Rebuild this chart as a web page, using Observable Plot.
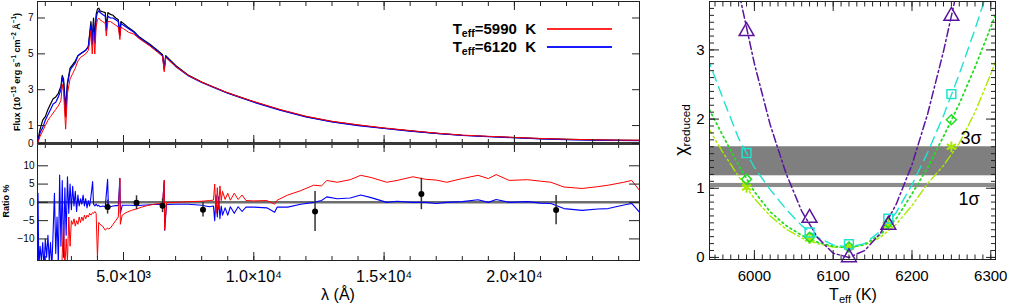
<!DOCTYPE html>
<html><head><meta charset="utf-8">
<script src="https://cdn.jsdelivr.net/npm/d3@7"></script>
<script src="https://cdn.jsdelivr.net/npm/@observablehq/plot@0.6"></script>
<style>
body{margin:0;background:#fff;}
#wrap{position:relative;width:1009px;height:304px;overflow:hidden;font-family:"Liberation Sans",Arial,Helvetica,sans-serif;color:#000;}
#wrap svg{position:absolute;}
.lbl{position:absolute;white-space:nowrap;line-height:1;}
.lbl sup{font-size:70%;vertical-align:0.5em;line-height:0;}
.lbl sub{font-size:70%;vertical-align:-0.25em;line-height:0;}
.sw{position:absolute;height:2px;}
</style></head><body><div id="wrap"></div>
<script>
// ---------- spectrum panel data (wavelength in Å, flux in 1e-15 erg/s/cm2/Å) ----------
const specWave = [1700,1800,1900,2000,2100,2200,2300,2400,2500,2600,2650,2700,2780,2850,2950,3050,3150,3250,3350,3450,3550,3650,3700,3750,3800,3850,3900,3950,4000,4050,4100,4200,4300,4340,4400,4500,4600,4700,4800,4861,4900,5000,5200,5400,5600,5800,6000,6300,6500,6563,6620,7000,7500,8000,8500,9000,9500,10000,11000,12000,13000,14000,15000,16000,17000,18000,19000,20000,21000,22000,23000,24000,24800];
const fluxObs = [0.1,0.8,1.3,1.5,1.9,2.2,2.5,2.6,2.8,3.2,3.8,3.6,2.0,3.4,4.2,4.4,4.6,4.9,5.0,5.1,5.2,5.4,6.1,6.8,5.7,7.0,5.8,7.2,7.5,7.55,7.4,7.35,7.3,6.5,7.3,7.2,7.15,7.0,6.9,6.1,6.8,6.7,6.45,6.25,5.95,5.75,5.55,5.2,4.95,4.2,4.9,4.35,3.8,3.43,3.12,2.82,2.57,2.33,1.88,1.5,1.22,1.02,0.85,0.7,0.57,0.46,0.39,0.33,0.27,0.23,0.2,0.18,0.17];
const flux6120 = [0.0,0.6,0.9,1.3,1.6,1.9,2.2,2.3,2.6,3.0,3.7,3.4,1.5,3.3,4.1,4.3,4.5,4.9,5.0,5.1,5.2,5.4,6.0,6.6,5.5,6.8,5.6,7.0,7.3,7.4,7.3,7.2,7.1,6.3,7.1,7.0,7.0,6.9,6.8,6.0,6.7,6.6,6.4,6.2,5.9,5.7,5.5,5.15,4.9,4.1,4.85,4.3,3.76,3.4,3.1,2.8,2.55,2.3,1.86,1.48,1.2,1.0,0.84,0.69,0.56,0.45,0.38,0.32,0.26,0.22,0.19,0.17,0.16];
const flux5990 = [0.0,0.4,0.7,1.0,1.3,1.5,1.7,1.9,2.1,2.4,3.3,2.9,0.8,2.8,3.6,3.9,4.2,4.6,4.8,4.9,5.0,5.2,5.6,6.3,5.0,6.2,5.0,6.5,6.9,7.0,6.9,6.8,6.7,6.0,6.8,6.8,6.7,6.6,6.5,5.8,6.5,6.4,6.2,6.1,5.85,5.65,5.45,5.1,4.85,4.0,4.8,4.3,3.78,3.42,3.12,2.83,2.58,2.34,1.9,1.52,1.24,1.04,0.87,0.72,0.58,0.47,0.4,0.34,0.28,0.24,0.21,0.19,0.18];
const fluxTicks = [0,1,3,5,7];

// ---------- ratio panel data (%) ----------
const ratioWave = [1700,1720,1750,1800,1850,1900,1950,2000,2050,2100,2150,2200,2250,2300,2350,2400,2450,2500,2550,2600,2650,2700,2750,2800,2850,2900,2950,3000,3050,3100,3150,3200,3250,3300,3350,3400,3450,3500,3550,3600,3650,3700,3750,3815,3850,3900,3950,4000,4050,4100,4200,4300,4390,4420,4500,4600,4700,4800,4861,4880,4950,5100,5300,5500,5700,5900,6100,6300,6500,6563,6580,6650,7000,7500,8000,8300,8450,8500,8550,8600,8650,8700,8750,8800,8900,9000,9100,9250,9400,9550,9700,10000,10500,10800,10900,11300,11800,12300,12600,12800,13200,13700,14100,14500,15100,15500,16100,16600,17000,17400,18000,18600,19000,19300,19800,20500,21000,21400,21900,22600,23200,23600,24200,24500,24800];
const ratio6120 = [-18,2.5,-18,-12,-16,-11,-18,-10,-15,-9, -16,-11,-18,-8,2.5,-14,-4,-17,7.5,-12, 6,-15,4,-9,7,-3,5,-2,4.4,-1, 3,-2.5,2,-1,1,-0.5,2,-1,1,-1.5, 0.5,-1,1.5,5.7,-0.5,-1,-0.5,-1,-0.8,-1.2, -1,-1.2,6.3,-1,-1.2,-1,-0.9,-0.9,6.6,-3, -0.8,-0.8,-0.8,-0.9,-0.8,-0.7,-0.6,-0.6,-0.6,6, -7.6,-0.6,-0.5,-0.5,-0.8,-1.2,-1,-5,2,-4, 1.5,-4.5,-1,-3.5,-1.5,-3.5,-1.2,-3,-1.2,-2.5, -1.3,-1.3,-1.5,-2.7,-1.3,-1.3,-0.5,0,0.5,1.5, 1,1.2,2,1.3,0,0.3,0,0,-0.3,0, 0.2,0.7,0,0.8,0,0.2,-0.2,-0.3,-1.7,-2.2, -1.8,-1.7,-0.7,-0.3,-2.7];
const ratio5990 = [-25,-25,-25,-25,-25,-25,-25,-25,-25,-25, -25,-25,-25,-25,-25,-25,-25,-25,-16,-25, -14,-6,-18,-10,-16,-4,-12,-5,-6,-4.5, -6.5,-5,-6,-4,-5.5,-4,-5,-3.5,-4.5,-3.5, -4,-3,-3.5,-2.8,-3,-2.5,-3,-15,-5.5,-6, -6.5,-7.6,-7,-7.3,-7,-6,-5,-4,6.6,-6, -3.5,-2.8,-2.2,-1.8,-1.3,-0.9,-0.6,-0.4,-0.3,6, -7.6,-0.1,0,0.2,0.3,0.5,0.6,5,-3,4, -2,4.5,0.5,3,0.8,2.5,0.6,2.5,0.8,2, 0.5,0.4,0.5,-0.5,0.6,2,3.2,4.7,4.5,6, 5.5,6.2,7.4,6.8,5.5,6,7,6.3,6.1,5.5, 6.5,7.4,6.5,7.6,6,6.2,5.8,5.5,4.2,3.8, 4.3,4.7,5.5,6,3.3];
const photWave  = [4390, 5500, 6500, 8050, 12350, 16430, 21600];
const photRatio = [-1.3, -0.1, -0.9, -2.0, -2.5, 2.3, -2.1];
const photErr   = [1.9, 1.9, 1.9, 2.0, 5.5, 4.3, 4.0];
const ratioTicks = [-10,-5,0,5,10];
const waveTicks = [5000, 10000, 15000, 20000];
const waveTickLabels = ["5.0×10³", "1.0×10⁴", "1.5×10⁴", "2.0×10⁴"];
const legendLabels = ["5990", "6120"];

// ---------- chi-square panel data ----------
const chiT = [5940,5960,5980,6000,6020,6040,6060,6080,6100,6120,6140,6160,6180,6200,6220,6240,6260,6280,6300,6310];
const chiTri = [6.3,5.0,3.85,2.8,1.92,1.22,0.67,0.29,0.06,0.0,0.1,0.35,0.77,1.34,2.08,2.98,4.0,5.2,6.6,7.3];
const chiSq  = [2.9,2.3,1.72,1.3,0.98,0.7,0.46,0.29,0.18,0.15,0.2,0.38,0.65,1.05,1.52,2.05,2.65,3.3,4.0,4.4];
const chiDia = [2.2,1.76,1.33,0.95,0.66,0.46,0.32,0.22,0.16,0.14,0.19,0.33,0.56,0.92,1.3,1.75,2.22,2.75,3.33,3.63];
const chiAst = [1.9,1.52,1.17,0.85,0.6,0.41,0.28,0.2,0.15,0.14,0.18,0.29,0.48,0.75,1.07,1.33,1.65,2.1,2.65,2.95];
const markT = [5990, 6070, 6120, 6170, 6250];
const markTri = [3.27, 0.57, 0.0, 0.47, 3.49];
const markSq  = [1.51, 0.36, 0.19, 0.56, 2.36];
const markDia = [1.13, 0.29, 0.15, 0.50, 1.99];
const markAst = [1.01, 0.27, 0.15, 0.47, 1.60];
const sigmaLabels = ["3σ", "1σ"];
const sigmaLo = [1.18, 1.01];
const sigmaHi = [1.60, 1.07];
const chiTicks = [0, 1, 2, 3];
const tempTicks = [6000, 6100, 6200, 6300];

// ---------- drawing ----------
const wrap = document.getElementById("wrap");
const font = "'Liberation Sans', Arial, Helvetica, sans-serif";
const blank = () => "";
const style = {fontFamily: font, fontSize: "10px", background: "transparent", overflow: "visible", color: "#000"};
const wMinor = d3.range(2, 25).map(k => k * 1000);

// inward-pointing tick marks (no labels)
function tx(values, anchor, size) {
  return Plot.axisX(values, {anchor, tickSize: size, dy: anchor === "bottom" ? -size : size, tickFormat: blank, label: null, stroke: "#222"});
}
function ty(values, anchor, size) {
  return Plot.axisY(values, {anchor, tickSize: size, dx: anchor === "left" ? size : -size, tickFormat: blank, label: null, stroke: "#222"});
}
function boxTicksX(major, minor, size) {
  return [tx(major, "bottom", size), tx(minor, "bottom", size / 2), tx(major, "top", size), tx(minor, "top", size / 2)];
}

// bottom ratio panel
const ratioPlot = Plot.plot({
  width: 645, height: 161, marginLeft: 37, marginRight: 6, marginTop: 0, marginBottom: 44,
  style,
  x: {domain: [1700, 24800]},
  y: {domain: [-15.9, 16.1]},
  marks: [
    Plot.ruleY([0], {stroke: "#6e6e6e", strokeWidth: 2.5}),
    Plot.line(ratioWave, {x: d => d, y: (d, i) => ratio6120[i], stroke: "#0000ff", strokeWidth: 1.1, clip: true}),
    Plot.line(ratioWave, {x: d => d, y: (d, i) => ratio5990[i], stroke: "#ff0000", strokeWidth: 1, clip: true}),
    Plot.ruleX(photWave, {x: d => d, y1: (d, i) => photRatio[i] - photErr[i], y2: (d, i) => photRatio[i] + photErr[i], stroke: "#333", strokeWidth: 1.5}),
    Plot.dot(photWave, {x: d => d, y: (d, i) => photRatio[i], r: 3, fill: "#000"}),
    Plot.frame({stroke: "#222"}),
    ...boxTicksX(waveTicks, wMinor, 8),
    Plot.axisX(waveTicks, {anchor: "bottom", tickSize: 0, tickPadding: 10, fontSize: 16, tickFormat: d => waveTickLabels[waveTicks.indexOf(d)], label: null}),
    Plot.axisY(ratioTicks, {anchor: "left", tickSize: 0, tickPadding: 3, fontSize: 10, label: null}),
    ty(ratioTicks, "left", 11),
    ty(ratioTicks, "right", 11)
  ]
});
ratioPlot.style.left = "0px"; ratioPlot.style.top = "143px";
wrap.appendChild(ratioPlot);

// top spectrum panel
const specPlot = Plot.plot({
  width: 645, height: 145, marginLeft: 37, marginRight: 6, marginTop: 1, marginBottom: 2,
  style,
  x: {domain: [1700, 24800]},
  y: {domain: [0, 7.92]},
  marks: [
    Plot.line(specWave, {x: d => d, y: (d, i) => fluxObs[i], stroke: "#000", strokeWidth: 1.2, clip: true}),
    Plot.line(specWave, {x: d => d, y: (d, i) => flux6120[i], stroke: "#0000ff", strokeWidth: 1.2, clip: true}),
    Plot.line(specWave, {x: d => d, y: (d, i) => flux5990[i], stroke: "#ff0000", strokeWidth: 1, clip: true}),
    Plot.frame({stroke: "#222"}),
    Plot.ruleY([0], {stroke: "#3a3a3a", strokeWidth: 3}),
    ...boxTicksX(waveTicks, wMinor, 8),
    Plot.axisY(fluxTicks, {anchor: "left", tickSize: 0, tickPadding: 4, fontSize: 10, label: null}),
    ty(fluxTicks, "left", 8),
    ty(fluxTicks, "right", 8)
  ]
});
specPlot.style.left = "0px"; specPlot.style.top = "0px";
wrap.appendChild(specPlot);

// chi-square panel
const purple = "#5a14a0", cyan = "#1fe3cf", green = "#22dd22", lime = "#a8e800";
const chiMinorY = d3.range(0, 37).map(k => k / 10);
const tMinor = d3.range(5950, 6310, 10);
const chiPlot = Plot.plot({
  width: 359, height: 304, marginLeft: 59, marginRight: 14, marginTop: 1, marginBottom: 45,
  style: {...style, fontSize: "15px"},
  x: {domain: [5943, 6306]},
  y: {domain: [-0.03, 3.70]},
  marks: [
    Plot.rect(sigmaLo, {y1: d => d, y2: (d, i) => sigmaHi[i], fill: (d, i) => i === 0 ? "#7f7f7f" : "#8c8c8c"}),
    Plot.line(chiT, {x: d => d, y: (d, i) => chiAst[i], stroke: lime, strokeWidth: 1.4, strokeDasharray: "9,3,2,3,2,3", clip: true}),
    Plot.line(chiT, {x: d => d, y: (d, i) => chiDia[i], stroke: green, strokeWidth: 1.8, strokeDasharray: "1.5,3.5", strokeLinecap: "round", clip: true}),
    Plot.line(chiT, {x: d => d, y: (d, i) => chiSq[i], stroke: cyan, strokeWidth: 1.4, strokeDasharray: "10,6", clip: true}),
    Plot.line(chiT, {x: d => d, y: (d, i) => chiTri[i], stroke: purple, strokeWidth: 1.5, strokeDasharray: "8,3,2,3", clip: true}),
    Plot.dot(markT, {x: d => d, y: (d, i) => markAst[i], symbol: "asterisk", r: 5, stroke: lime, strokeWidth: 2}),
    Plot.dot(markT, {x: d => d, y: (d, i) => markDia[i], symbol: "diamond2", r: 4.5, stroke: green, fill: "none", strokeWidth: 1.5}),
    Plot.dot(markT, {x: d => d, y: (d, i) => markSq[i], symbol: "square", r: 5, stroke: cyan, fill: "none", strokeWidth: 1.5}),
    Plot.dot(markT, {x: d => d, y: (d, i) => markTri[i], symbol: "triangle", r: 5.5, stroke: purple, fill: "none", strokeWidth: 1.5}),
    Plot.text([0], {y: d => sigmaHi[d], text: d => sigmaLabels[d], frameAnchor: "right", dx: -14, dy: -9, textAnchor: "end", fontSize: 18}),
    Plot.text([1], {y: d => sigmaLo[d], text: d => sigmaLabels[d], frameAnchor: "right", dx: -16, dy: 12, textAnchor: "end", fontSize: 18}),
    Plot.frame({stroke: "#222"}),
    ...boxTicksX(tempTicks, tMinor, 9),
    Plot.axisX(tempTicks, {anchor: "bottom", tickSize: 0, tickPadding: 11, fontSize: 15, tickFormat: d3.format("d"), label: null}),
    Plot.axisY(chiTicks, {anchor: "left", tickSize: 0, tickPadding: 5, fontSize: 15, tickFormat: d3.format("d"), label: null}),
    ty(chiTicks, "left", 10), ty(chiMinorY, "left", 5),
    ty(chiTicks, "right", 10), ty(chiMinorY, "right", 5)
  ]
});
chiPlot.style.left = "650px"; chiPlot.style.top = "0px";
wrap.appendChild(chiPlot);

// ---------- text labels & legend ----------
function label(html, x, y, css, rotate) {
  const d = document.createElement("div");
  d.className = "lbl";
  d.innerHTML = html;
  d.style.left = x + "px"; d.style.top = y + "px";
  d.style.transform = "translate(-50%,-50%)" + (rotate ? " rotate(-90deg)" : "");
  d.style.cssText += css;
  wrap.appendChild(d);
}
label("Flux (10<sup>−15</sup> erg s<sup>−1</sup> cm<sup>−2</sup> Å<sup>−1</sup>)", 17, 72, "font-size:9px;font-weight:bold;", true);
label("Ratio %", 6, 201, "font-size:9px;font-weight:bold;", true);
label("λ (Å)", 338, 295, "font-size:16px;", false);
label("T<sub>eff</sub> (K)", 853, 295, "font-size:16px;", false);
label("χ<sub style='font-size:65%'>reduced</sub>", 681, 130, "font-size:18px;", true);

const legColors = ["#ff2a2a", "#1a1aff"];
legendLabels.forEach((t, i) => {
  const d = document.createElement("div");
  d.className = "lbl";
  d.innerHTML = "T<sub>eff</sub>=" + t + "&nbsp; K";
  d.style.cssText += "font-size:15px;font-weight:bold;right:" + (1009 - 536) + "px;top:" + (21 + i * 18) + "px;";
  wrap.appendChild(d);
  const s = document.createElement("div");
  s.className = "sw";
  s.style.cssText = "left:547px;width:65px;top:" + (28 + i * 18) + "px;background:" + legColors[i] + ";height:" + (i ? 2 : 1.5) + "px;";
  wrap.appendChild(s);
});
</script></body></html>
